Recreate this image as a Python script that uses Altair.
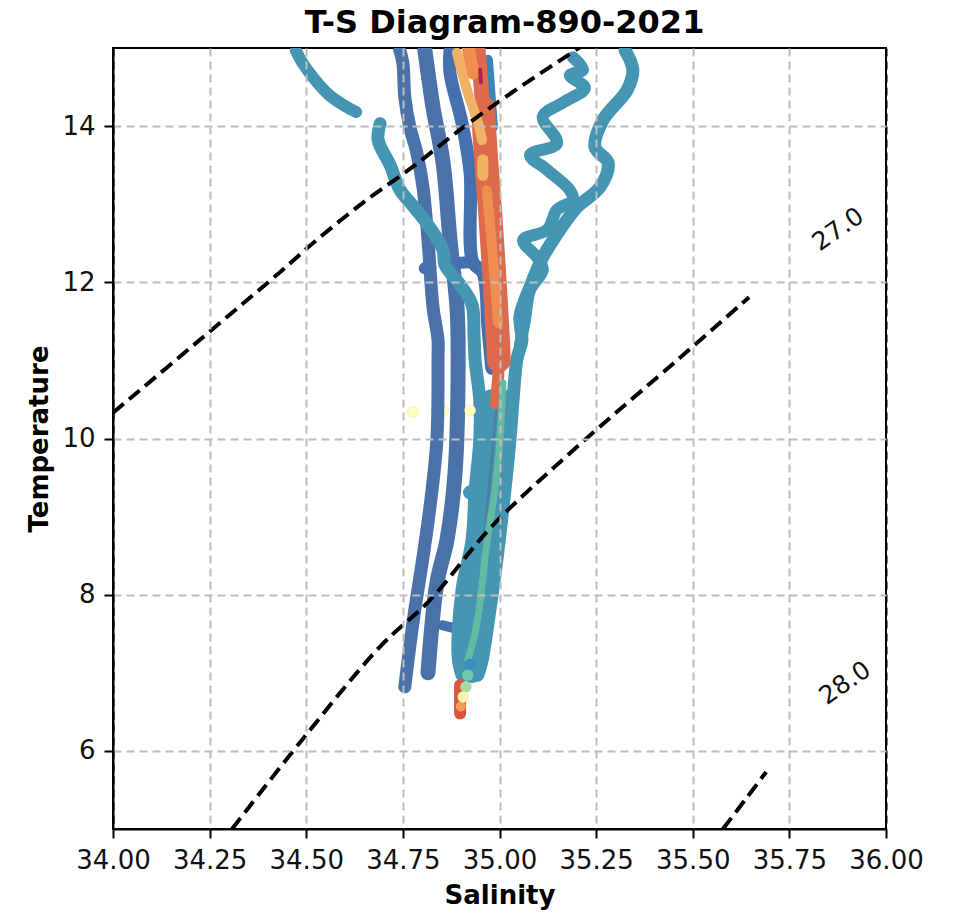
import altair as alt
import pandas as pd

# --- salinity / temperature ---
A_S = [34.473, 34.489, 34.523, 34.561, 34.600, 34.629]
A_T = [14.97, 14.82, 14.59, 14.39, 14.26, 14.18]
B_S = [34.691, 34.686, 34.717, 34.743, 34.781, 34.820, 34.854, 34.859, 34.898, 34.929, 34.934, 34.937, 34.949, 34.949, 34.937, 34.929, 34.903, 34.893, 34.903]
B_T = [14.03, 13.82, 13.50, 13.18, 12.95, 12.70, 12.41, 12.22, 11.97, 11.71, 11.33, 11.00, 10.49, 9.98, 9.34, 8.70, 8.06, 7.20, 6.97]
D_S = [35.325, 35.345, 35.330, 35.268, 35.247, 35.281, 35.260, 35.200, 35.156, 35.112, 35.079, 35.053, 35.058, 35.045, 35.035, 35.027, 35.014, 34.993, 34.975, 34.955, 34.944]
D_T = [14.97, 14.72, 14.46, 14.08, 13.73, 13.53, 13.22, 12.96, 12.67, 12.32, 11.94, 11.56, 11.26, 11.01, 10.49, 9.98, 9.34, 8.44, 7.80, 7.16, 6.97]
E_S = [35.190, 35.216, 35.182, 35.221, 35.164, 35.112, 35.149, 35.079, 35.123, 35.182, 35.190, 35.149, 35.123, 35.061, 35.097, 35.112, 35.079, 35.066, 35.053]
E_T = [14.88, 14.72, 14.65, 14.49, 14.30, 14.12, 13.78, 13.63, 13.44, 13.18, 13.05, 12.93, 12.67, 12.54, 12.32, 12.16, 11.90, 11.52, 11.20]
M1_S = [34.980, 34.980, 34.962, 34.937, 34.924]
M1_T = [10.49, 9.60, 8.70, 7.93, 7.04]
M2_S = [35.009, 35.001, 34.980, 34.957, 34.929]
M2_T = [10.49, 9.60, 8.70, 7.80, 7.01]
C1_S = [34.742, 34.750, 34.755, 34.768, 34.786, 34.802, 34.815, 34.828, 34.841, 34.841, 34.838, 34.820, 34.802, 34.776, 34.755]
C1_T = [14.97, 14.81, 14.37, 13.99, 13.66, 13.22, 12.54, 11.68, 11.26, 11.04, 9.98, 9.12, 8.48, 7.64, 6.82]
C2_S = [34.807, 34.828, 34.854, 34.872, 34.890, 34.893, 34.885, 34.864, 34.838, 34.815]
C2_T = [14.97, 14.24, 13.53, 12.54, 11.68, 11.04, 9.56, 8.70, 8.15, 7.00]
C3_S = [34.872, 34.872, 34.903, 34.924, 34.931, 34.957, 34.970, 34.980]
C3_T = [14.97, 14.68, 14.04, 13.40, 12.26, 12.12, 11.43, 10.90]
HOOK1_S = [34.898, 34.931]
HOOK1_T = [12.25, 12.26]
HOOK2_S = [34.851, 34.885]
HOOK2_T = [7.61, 7.57]
C4_S = [34.970, 34.983]
C4_T = [14.85, 13.99]
GREY_S = [34.996, 34.949]
GREY_T = [10.62, 8.06]
RED_TOP_S = [34.944, 34.957]
RED_TOP_T = [15.00, 14.24]
RED_S = [34.957, 34.965, 34.975, 34.986, 34.996, 34.998]
RED_T = [14.24, 13.60, 12.96, 12.12, 11.26, 11.00]
RED_TIP_S = [34.998, 34.996, 34.990]
RED_TIP_T = [11.00, 10.75, 10.45]
RED_END_S = [34.898, 34.898]
RED_END_T = [6.84, 6.48]
OR1_S = [34.919, 34.931]
OR1_T = [15.00, 14.68]
OR2_S = [34.967, 34.983, 34.996]
OR2_T = [13.18, 12.32, 11.48]
LO1_S = [34.890, 34.916, 34.942, 34.955]
LO1_T = [14.94, 14.46, 14.08, 13.82]
LO2_S = [34.957, 34.957]
LO2_T = [13.57, 13.37]
DR_S = [34.950, 34.952]
DR_T = [14.72, 14.56]
GREEN_S = [35.009, 35.001, 34.988, 34.968, 34.942, 34.918]
GREEN_T = [10.71, 9.98, 9.34, 8.70, 7.64, 7.16]

END_S = [34.924, 34.918, 34.913, 34.900, 34.906]
END_T = [7.10, 6.97, 6.82, 6.57, 6.69]
YEL_S = [34.776, 34.854, 34.924]
YEL_T = [10.34, 10.36, 10.36]
BLOB_S = [34.924, 34.807]
BLOB_T = [9.31, 12.18]

# isopycnals
L1_S = [34.000, 34.248, 34.432, 34.517, 34.647, 34.776, 34.905, 35.035, 35.190, 35.208]
L1_T = [10.33, 11.36, 12.13, 12.50, 13.02, 13.48, 13.98, 14.44, 14.95, 15.01]
L2_S = [34.308, 34.489, 34.690, 34.820, 34.983, 35.200, 35.466, 35.646]
L2_T = [5.00, 6.14, 7.33, 7.93, 8.89, 9.89, 11.03, 11.81]
L3_S = [35.578, 35.635, 35.690]
L3_T = [5.00, 5.37, 5.73]

LABEL_TEXT = ["27.0", "28.0"]
LABEL_S = [35.876, 35.894]
LABEL_T = [12.68, 6.87]

XTICKS = [34.0, 34.25, 34.5, 34.75, 35.0, 35.25, 35.5, 35.75, 36.0]
YTICKS = [6, 8, 10, 12, 14]

FONT = "DejaVu Sans"
x_enc = alt.X("S:Q", scale=alt.Scale(domain=[34, 36], nice=False, zero=False),
              axis=alt.Axis(values=XTICKS, format=".2f", title="Salinity", zindex=1, labelFlush=False,
                            gridColor=alt.condition("datum.value <= 34 || datum.value >= 36",
                                                    alt.value("black"), alt.value("#bdbdbd"))))
y_enc = alt.Y("T:Q", scale=alt.Scale(domain=[5, 15], nice=False, zero=False),
              axis=alt.Axis(values=YTICKS, format="d", title="Temperature", zindex=1, labelFlush=False))


def frame(s, t):
    return pd.DataFrame({"S": s, "T": t, "i": range(len(s))})


def trace(s, t, color, width):
    return alt.Chart(frame(s, t)).mark_line(
        color=color, strokeWidth=width, strokeCap="round", strokeJoin="round", clip=True,
        interpolate="catmull-rom"
    ).encode(x=x_enc, y=y_enc, order="i:Q")


def dashed(s, t):
    return alt.Chart(frame(s, t)).mark_line(
        color="black", strokeWidth=4, strokeDash=[14, 7], clip=True, interpolate="catmull-rom"
    ).encode(x=x_enc, y=y_enc, order="i:Q")


def dots(s, t, color, size, stroke=None):
    kw = {"stroke": stroke, "strokeWidth": 0.6} if stroke else {"strokeWidth": 0}
    return alt.Chart(frame(s, t)).mark_circle(color=color, size=size, opacity=1, clip=True, **kw).encode(x=x_enc, y=y_enc)


BLUE = "#4470ae"
BLUE2 = "#4a72a9"
TEAL = "#4596b3"

layers = [
    dots(YEL_S[:2], YEL_T[:2], "#ffffbf", 120, stroke="#e8e8a0"),
    trace(C1_S, C1_T, BLUE2, 13),
    trace(C2_S, C2_T, BLUE2, 15),
    trace(C3_S, C3_T, BLUE, 13),
    trace(HOOK1_S, HOOK1_T, BLUE, 12),
    trace(HOOK2_S, HOOK2_T, BLUE, 10),
    dots(BLOB_S[1:], BLOB_T[1:], BLUE, 150),
    trace(C4_S, C4_T, "#3f84b6", 10),
    trace(A_S, A_T, TEAL, 12),
    trace(B_S, B_T, TEAL, 13),
    trace(D_S, D_T, TEAL, 13),
    trace(E_S, E_T, TEAL, 12),
    trace(M1_S, M1_T, TEAL, 22),
    trace(M2_S, M2_T, TEAL, 22),
    dots(BLOB_S[:1], BLOB_T[:1], TEAL, 200),
    dots(YEL_S[2:], YEL_T[2:], "#ffffbf", 120, stroke="#e8e8a0"),
    trace(GREY_S, GREY_T, "#4f7fa6", 3),
    trace(RED_TOP_S, RED_TOP_T, "#dc6a4c", 15),
    trace(RED_S, RED_T, "#dc6a4c", 24),
    trace(RED_TIP_S, RED_TIP_T, "#dc6a4c", 12),
    trace(OR1_S, OR1_T, "#ef8c50", 13),
    trace(OR2_S, OR2_T, "#ef8c50", 10),
    trace(LO1_S, LO1_T, "#f2b266", 10),
    trace(LO2_S, LO2_T, "#f2b266", 11),
    trace(DR_S, DR_T, "#b3204f", 4),
    trace(GREEN_S, GREEN_T, "#63baa3", 7),
    trace(RED_END_S, RED_END_T, "#d8573f", 12),
    dots(END_S[:1], END_T[:1], "#3a8fc0", 150),
    dots(END_S[1:2], END_T[1:2], "#74c7a5", 130),
    dots(END_S[2:3], END_T[2:3], "#a9dba4", 130),
    dots(END_S[3:4], END_T[3:4], "#f79d5c", 100),
    dots(END_S[4:5], END_T[4:5], "#f7f5b0", 130),
    dashed(L1_S, L1_T),
    dashed(L2_S, L2_T),
    dashed(L3_S, L3_T),
    alt.Chart(pd.DataFrame({"S": LABEL_S, "T": LABEL_T, "label": LABEL_TEXT})).mark_text(
        angle=325, fontSize=25, font=FONT, color="#111111", align="center", baseline="middle"
    ).encode(x=x_enc, y=y_enc, text="label:N"),
]

chart = alt.layer(*layers).properties(
    width=773,
    height=781,
    title=alt.TitleParams("T-S Diagram-890-2021", fontSize=32, font=FONT, fontWeight="bold",
                          color="black", anchor="middle", offset=8, dx=5),
    padding={"left": 105, "top": 40, "right": 40, "bottom": 83},
    autosize=alt.AutoSizeParams(type="none"),
).configure_view(stroke="black", strokeWidth=2, fill="white").configure_axis(
    grid=True, gridColor="#bdbdbd", gridDash=[8, 5], gridWidth=2,
    domainColor="black", domainWidth=2, tickColor="black", tickWidth=2, tickSize=9,
    labelFont=FONT, labelFontSize=26, labelColor="#111111", labelPadding=9,
    titleFont=FONT, titleFontSize=26, titleFontWeight="bold", titleColor="black", titlePadding=9,
    labelOverlap=False,
)

chart.save("out.html", embed_options={"renderer": "svg", "actions": False})
